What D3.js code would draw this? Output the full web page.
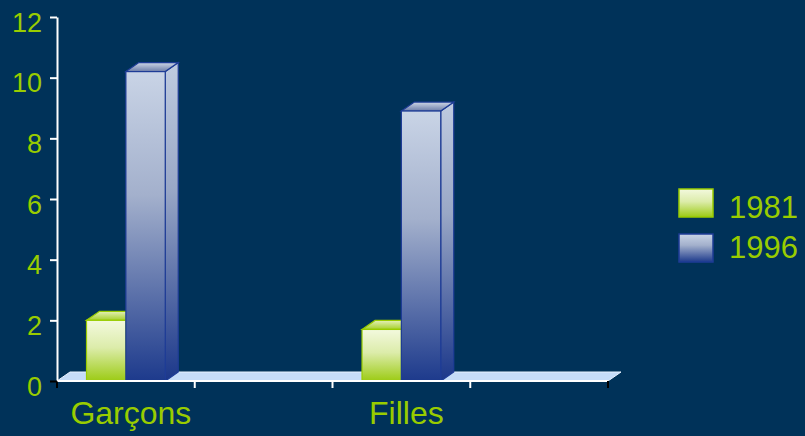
<!DOCTYPE html>
<html>
<head>
<meta charset="utf-8">
<script src="https://d3js.org/d3.v7.min.js"></script>
<style>
    body { margin: 0; background: #003259; }
    svg { display: block; }
    .label { font-family: "Liberation Sans", Arial, sans-serif; fill: #99cc00; }
</style>
</head>
<body>
<div id="chart"></div>
<script>

var w = 805,
    h = 436;

// chart data
var categories = ["Garçons", "", "Filles", ""];
var series = ["1981", "1996"];
var values1981 = [2.0, null, 1.7, null];
var values1996 = [10.2, null, 8.9, null];
var yTicks = [0, 2, 4, 6, 8, 10, 12];

// 3d depth of bars and floor
var dx = 13,
    dy = -9;

var svg = d3.select("#chart").append("svg")
    .attr("width", w)
    .attr("height", h);

var defs = svg.append("defs");

// vertical gradient helper
function gradient(id, stops) {
    var g = defs.append("linearGradient")
        .attr("id", id)
        .attr("x1", "0%").attr("y1", "0%")
        .attr("x2", "0%").attr("y2", "100%");
    stops.forEach(function(s) {
        g.append("stop").attr("offset", s[0]).attr("stop-color", s[1]);
    });
}

gradient("green-front", [["0%", "#f3f9de"], ["45%", "#dcecaa"], ["100%", "#9ccb14"]]);
gradient("green-top", [["0%", "#e4f0b8"], ["100%", "#a6d02a"]]);
gradient("blue-front", [["0%", "#c9d4e6"], ["40%", "#a3b0cc"], ["100%", "#1d3a8c"]]);
gradient("blue-side", [["0%", "#bfcbe0"], ["40%", "#99a7c6"], ["100%", "#1b378a"]]);
gradient("blue-top", [["0%", "#cdd6e6"], ["100%", "#6c7ca8"]]);

var styles = {
    "1981": {front: "url(#green-front)", side: "url(#green-front)", top: "url(#green-top)", stroke: "#99cc00"},
    "1996": {front: "url(#blue-front)", side: "url(#blue-side)", top: "url(#blue-top)", stroke: "#1e3c96"}
};

// scales
var x = d3.scaleBand()
    .domain(d3.range(categories.length))
    .range([57, 608])
    .paddingInner(0)
    .paddingOuter(0);

var inner = d3.scaleBand()
    .domain(series)
    .range([0, x.bandwidth()])
    .paddingInner(0)
    .paddingOuter(0.75);

var y = d3.scaleLinear()
    .domain([0, 12])
    .range([381, 17]);

// floor
var x0 = x.range()[0],
    x1 = x.range()[1],
    y0 = y(0);

svg.append("polygon")
    .attr("points", [[x0, y0], [x0 + dx, y0 + dy], [x1 + dx, y0 + dy], [x1, y0]].join(" "))
    .attr("fill", "#c5dcf8")
    .attr("stroke", "#e8f2ff")
    .attr("stroke-width", 1);

// bars
var rows = categories.map(function(c, i) {
    return {i: i, "1981": values1981[i], "1996": values1996[i]};
}).filter(function(d) { return d["1981"] !== null; });

var bars = svg.append("g").attr("class", "bars");

rows.forEach(function(d) {
    series.forEach(function(s) {
        var left = x(d.i) + inner(s),
            right = left + inner.bandwidth(),
            top = y(d[s]),
            st = styles[s];

        var bar = bars.append("g");

        // side face
        bar.append("polygon")
            .attr("points", [[right, top], [right + dx, top + dy], [right + dx, y0 + dy], [right, y0]].join(" "))
            .attr("fill", st.side)
            .attr("stroke", st.stroke)
            .attr("stroke-width", 1.2);

        // top face
        bar.append("polygon")
            .attr("points", [[left, top], [left + dx, top + dy], [right + dx, top + dy], [right, top]].join(" "))
            .attr("fill", st.top)
            .attr("stroke", st.stroke)
            .attr("stroke-width", 1.2);

        // front face
        bar.append("rect")
            .attr("x", left)
            .attr("y", top)
            .attr("width", right - left)
            .attr("height", y0 - top)
            .attr("fill", st.front)
            .attr("stroke", st.stroke)
            .attr("stroke-width", 1.2);
    });
});

// x axis line and ticks on band edges
svg.append("line")
    .attr("x1", x0).attr("x2", x1)
    .attr("y1", y0).attr("y2", y0)
    .attr("stroke", "#ffffff")
    .attr("stroke-width", 2);

var edges = d3.range(categories.length + 1).map(function(i) {
    return i < categories.length ? x(i) : x1;
});

svg.append("g").selectAll("line")
    .data(edges)
    .enter().append("line")
        .attr("x1", function(d) { return d; })
        .attr("x2", function(d) { return d; })
        .attr("y1", y0)
        .attr("y2", y0 + 7)
        .attr("stroke", function(d, i) { return (i === 0 || i === edges.length - 1) ? "#000000" : "#ffffff"; })
        .attr("stroke-width", 2);

// category labels
svg.append("g").selectAll("text")
    .data(categories)
    .enter().append("text")
        .attr("class", "label")
        .attr("x", function(d, i) { return x(i) + x.bandwidth() / 2 + 5; })
        .attr("y", 424)
        .attr("text-anchor", "middle")
        .style("font-size", "32px")
        .text(function(d) { return d; });

// y axis
var yAxis = d3.axisLeft(y)
    .tickValues(yTicks)
    .tickSize(7)
    .tickSizeOuter(0)
    .tickPadding(8);

var ya = svg.append("g")
    .attr("transform", "translate(" + x0 + ",0)")
    .call(yAxis);

ya.select(".domain")
    .attr("stroke", "#ffffff")
    .attr("stroke-width", 2);

ya.selectAll(".tick line")
    .attr("stroke", function(d) { return d === 0 ? "#000000" : "#ffffff"; })
    .attr("stroke-width", 2);

ya.selectAll(".tick text")
    .attr("class", "label")
    .attr("dy", "0.52em")
    .style("font-size", "27px")
    .style("font-family", "'Liberation Sans', Arial, sans-serif")
    .attr("fill", "#99cc00");

// legend
var legend = svg.append("g")
    .attr("transform", "translate(679, 189)");

series.forEach(function(s, i) {
    legend.append("rect")
        .attr("x", 0)
        .attr("y", i * 45)
        .attr("width", 34)
        .attr("height", 28)
        .attr("fill", styles[s].front)
        .attr("stroke", styles[s].stroke)
        .attr("stroke-width", 1.5);

    legend.append("text")
        .attr("class", "label")
        .attr("x", 50)
        .attr("y", i * 40 + 29)
        .style("font-size", "31px")
        .text(s);
});

</script>
</body>
</html>
